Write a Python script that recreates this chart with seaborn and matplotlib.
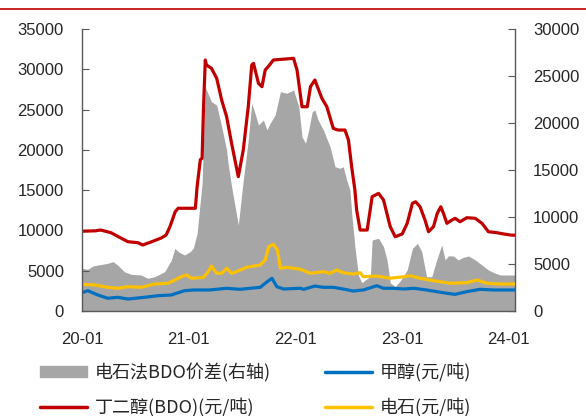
import pandas as pd
import seaborn as sns
import matplotlib
matplotlib.use('Agg')
import matplotlib.pyplot as plt
import matplotlib.dates as mdates
from matplotlib.patches import Patch
from matplotlib.lines import Line2D

# 丁二醇(BDO) 价格, 左轴
bdo_dates = ['2020-01-01', '2020-02-15', '2020-03-05', '2020-04-09', '2020-05-13', '2020-06-06',
             '2020-07-10', '2020-07-27', '2020-08-24', '2020-09-28', '2020-10-15', '2020-10-28',
             '2020-11-15', '2020-11-25', '2021-01-23', '2021-01-29', '2021-02-09', '2021-02-15',
             '2021-02-20', '2021-02-26', '2021-03-02', '2021-03-19', '2021-04-06', '2021-04-23',
             '2021-05-10', '2021-05-27', '2021-06-19', '2021-07-06', '2021-07-23', '2021-08-04',
             '2021-08-10', '2021-08-27', '2021-09-08', '2021-09-19', '2021-10-01', '2021-10-17',
             '2021-12-25', '2022-01-06', '2022-01-23', '2022-02-10', '2022-02-21', '2022-03-08',
             '2022-04-01', '2022-04-18', '2022-05-10', '2022-05-26', '2022-06-19', '2022-07-01',
             '2022-07-12', '2022-07-23', '2022-07-29', '2022-08-10', '2022-09-03', '2022-09-20',
             '2022-10-12', '2022-10-29', '2022-11-21', '2022-12-08', '2023-01-01', '2023-01-18',
             '2023-02-05', '2023-02-16', '2023-03-03', '2023-03-20', '2023-04-01', '2023-04-18',
             '2023-05-01', '2023-05-13', '2023-05-22', '2023-06-03', '2023-06-20', '2023-07-01',
             '2023-07-18', '2023-08-10', '2023-09-08', '2023-10-01', '2023-10-23', '2023-11-21',
             '2023-12-14', '2024-01-07', '2024-01-22']
bdo_vals = [9900, 9950, 10050, 9720, 9060, 8600,
            8480, 8190, 8560, 9060, 9430, 10460,
            12320, 12750, 12750, 15430, 18780, 18950,
            25350, 31150, 30530, 30120, 28880, 26190,
            24110, 20810, 16670, 19980, 25350, 30530,
            30740, 28260, 27840, 29910, 30400, 31150,
            31360, 29910, 25350, 25350, 27840, 28670,
            26400, 25350, 22670, 22460, 22460, 21220,
            17900, 15020, 12530, 10050, 10050, 14180,
            14600, 13780, 10460, 9220, 9560, 10880,
            13370, 13560, 12940, 11290, 9840, 10460,
            12120, 12940, 12120, 10880, 11290, 11500,
            11080, 11580, 11500, 10880, 9840, 9720,
            9560, 9430, 9400]

# 甲醇, 左轴
meoh_dates = ['2020-01-01', '2020-01-21', '2020-02-24', '2020-03-29', '2020-05-02', '2020-06-06',
              '2020-08-02', '2020-09-17', '2020-11-02', '2020-11-25', '2020-12-17', '2021-01-17',
              '2021-03-13', '2021-05-10', '2021-06-24', '2021-09-02', '2021-09-26', '2021-10-12',
              '2021-10-29', '2021-11-21', '2022-01-17', '2022-01-29', '2022-03-08', '2022-04-06',
              '2022-05-10', '2022-06-13', '2022-07-17', '2022-08-21', '2022-10-06', '2022-10-29',
              '2022-12-02', '2023-01-06', '2023-02-10', '2023-03-25', '2023-04-29', '2023-06-03',
              '2023-07-01', '2023-08-10', '2023-09-25', '2023-11-10', '2024-01-22']
meoh_vals = [2270, 2520, 1990, 1580, 1700, 1490,
             1700, 1900, 1990, 2270, 2520, 2610,
             2610, 2820, 2690, 2940, 3640, 4060,
             3020, 2730, 2820, 2690, 3100, 2940,
             2940, 2730, 2480, 2610, 3140, 2820,
             2820, 2730, 2820, 2610, 2400, 2200,
             2070, 2400, 2690, 2610, 2610]

# 电石, 左轴
carbide_dates = ['2020-01-01', '2020-02-13', '2020-03-29', '2020-05-02', '2020-06-06', '2020-07-21',
                 '2020-09-06', '2020-10-21', '2020-11-14', '2020-12-06', '2020-12-24', '2021-01-10',
                 '2021-02-20', '2021-03-08', '2021-03-19', '2021-04-06', '2021-04-23', '2021-05-10',
                 '2021-05-27', '2021-06-13', '2021-07-17', '2021-09-02', '2021-09-19', '2021-10-01',
                 '2021-10-17', '2021-10-31', '2021-11-10', '2021-12-02', '2022-01-17', '2022-02-21',
                 '2022-04-06', '2022-04-29', '2022-05-21', '2022-06-13', '2022-07-17', '2022-08-10',
                 '2022-08-21', '2022-10-06', '2022-11-21', '2023-01-06', '2023-01-29', '2023-03-03',
                 '2023-04-18', '2023-06-14', '2023-08-10', '2023-09-14', '2023-10-18', '2023-12-03',
                 '2024-01-22']
carbide_vals = [3310, 3230, 2940, 2820, 3020, 2940,
                3350, 3440, 3850, 4260, 4470, 4060,
                4180, 4880, 5580, 4680, 4680, 5300,
                4680, 4880, 5420, 5710, 6330, 7980,
                8280, 7570, 5300, 5420, 5180, 4680,
                4880, 4680, 5090, 4750, 4590, 4750,
                4260, 4340, 4060, 4260, 4380, 4060,
                3760, 3440, 3520, 3850, 3440, 3350,
                3350]

# 电石法BDO价差, 右轴
spread_dates = ['2020-01-01', '2020-01-21', '2020-02-08', '2020-02-24', '2020-03-29', '2020-04-16',
                '2020-05-02', '2020-05-25', '2020-06-17', '2020-07-21', '2020-08-13', '2020-09-06',
                '2020-10-10', '2020-11-02', '2020-11-14', '2020-11-25', '2020-12-17', '2021-01-05',
                '2021-01-16', '2021-01-29', '2021-02-15', '2021-02-26', '2021-03-02', '2021-03-19',
                '2021-04-06', '2021-04-23', '2021-05-10', '2021-05-15', '2021-05-27', '2021-06-19',
                '2021-07-06', '2021-07-23', '2021-08-04', '2021-08-15', '2021-08-27', '2021-09-13',
                '2021-09-25', '2021-10-06', '2021-10-23', '2021-11-10', '2021-12-02', '2021-12-25',
                '2022-01-12', '2022-01-23', '2022-02-04', '2022-02-15', '2022-02-27', '2022-03-08',
                '2022-03-19', '2022-04-06', '2022-04-29', '2022-05-16', '2022-06-02', '2022-06-13',
                '2022-06-25', '2022-07-06', '2022-07-12', '2022-07-23', '2022-08-04', '2022-08-16',
                '2022-08-27', '2022-09-14', '2022-09-20', '2022-10-12', '2022-10-29', '2022-11-10',
                '2022-11-21', '2022-12-08', '2022-12-25', '2023-01-18', '2023-02-05', '2023-02-22',
                '2023-03-09', '2023-03-25', '2023-04-12', '2023-04-29', '2023-05-16', '2023-05-28',
                '2023-06-08', '2023-06-25', '2023-07-12', '2023-07-29', '2023-08-16', '2023-09-08',
                '2023-10-01', '2023-10-23', '2023-11-16', '2023-12-03', '2024-01-22']
spread_vals = [4540, 4440, 4790, 4890, 5070, 5250,
               4890, 4180, 3900, 3830, 3480, 3650,
               4180, 5430, 6670, 6310, 5960, 6310,
               6670, 8270, 13590, 23870, 23510, 22270,
               21900, 19610, 17130, 15720, 13230, 9150,
               13940, 18190, 22100, 21040, 19790, 20320,
               19260, 19970, 20850, 23330, 23160, 23510,
               21740, 18540, 17840, 19260, 21210, 21390,
               20320, 19260, 17480, 15350, 15180, 15350,
               13940, 12870, 10400, 6840, 3800, 3000,
               3300, 3650, 7550, 7740, 6840, 5430,
               3000, 2600, 3200, 4360, 6660, 7200,
               6310, 3650, 3650, 5430, 7020, 5430,
               5870, 5850, 5430, 5710, 5850, 5430,
               4890, 4360, 4010, 3830, 3830]

year_ticks = ['2020-01-01', '2021-01-01', '2022-01-01', '2023-01-01', '2024-01-01']

RED = '#C00000'
BLUE = '#0070C0'
YELLOW = '#FFC000'
GRAY = '#A6A6A6'
AXC = '#595959'
TXT = '#262626'

sns.set_style('white')
plt.rcParams['font.family'] = ['Liberation Sans', 'Noto Sans CJK SC', 'DejaVu Sans']

fig = plt.figure(figsize=(5.86, 4.16), dpi=100)
ax1 = fig.add_axes([82 / 586, 1 - 311 / 416, (515 - 82) / 586, (311 - 29) / 416])
ax2 = ax1.twinx()

# 价差面积画在右轴, 线画在左轴并放在上层
ax2.fill_between(pd.to_datetime(spread_dates), spread_vals, 0, color=GRAY, linewidth=0)

sns.lineplot(x=pd.to_datetime(bdo_dates), y=bdo_vals, ax=ax1, color=RED, linewidth=2.3)
sns.lineplot(x=pd.to_datetime(meoh_dates), y=meoh_vals, ax=ax1, color=BLUE, linewidth=2.3)
sns.lineplot(x=pd.to_datetime(carbide_dates), y=carbide_vals, ax=ax1, color=YELLOW, linewidth=2.3)

ax1.set_zorder(ax2.get_zorder() + 1)
ax1.patch.set_visible(False)

ax1.set_xlim(pd.Timestamp('2020-01-01'), pd.Timestamp('2024-01-22'))
ax1.set_ylim(0, 35000)
ax2.set_ylim(0, 30000)
ax1.set_yticks(range(0, 35001, 5000))
ax2.set_yticks(range(0, 30001, 5000))
ax1.set_xticks(pd.to_datetime(year_ticks))
ax1.xaxis.set_major_formatter(mdates.DateFormatter('%y-%m'))

for ax in (ax1, ax2):
    for side in ('left', 'right', 'bottom', 'top'):
        ax.spines[side].set_visible(False)
ax1.spines['left'].set_visible(True)
ax1.spines['bottom'].set_visible(True)
ax2.spines['right'].set_visible(True)
for sp in (ax1.spines['left'], ax1.spines['bottom'], ax2.spines['right']):
    sp.set_color(AXC)
    sp.set_linewidth(1.0)

ax1.tick_params(axis='y', direction='in', length=5, color=AXC, labelcolor=TXT, labelsize=12, pad=13)
ax2.tick_params(axis='y', direction='in', length=5, color=AXC, labelcolor=TXT, labelsize=12, pad=13)
ax1.tick_params(axis='x', direction='in', length=5, color=AXC, labelcolor=TXT, labelsize=12, pad=15)
ax1.set_xlabel('')
ax1.set_ylabel('')
ax2.set_ylabel('')
ax1.grid(False)
ax2.grid(False)

leg_font = {'family': ['Noto Sans CJK SC', 'DejaVu Sans'], 'size': 13}
leg_kw = dict(frameon=False, loc='upper left', borderpad=0, borderaxespad=0,
              handlelength=2.6, handleheight=0.6, labelspacing=0.9, handletextpad=0.45,
              prop=leg_font)
fig.legend([Patch(color=GRAY), Line2D([], [], color=RED, linewidth=2.5)],
           ['电石法BDO价差(右轴)', '丁二醇(BDO)(元/吨)'],
           bbox_to_anchor=(40 / 586, 1 - 363 / 416), **leg_kw)
fig.legend([Line2D([], [], color=BLUE, linewidth=2.5), Line2D([], [], color=YELLOW, linewidth=2.5)],
           ['甲醇(元/吨)', '电石(元/吨)'],
           bbox_to_anchor=(325 / 586, 1 - 363 / 416), **leg_kw)

fig.add_artist(Line2D([0, 1], [1 - 9 / 416, 1 - 9 / 416], transform=fig.transFigure,
                      color=RED, linewidth=1.2))

fig.savefig('out.png', dpi=100)
